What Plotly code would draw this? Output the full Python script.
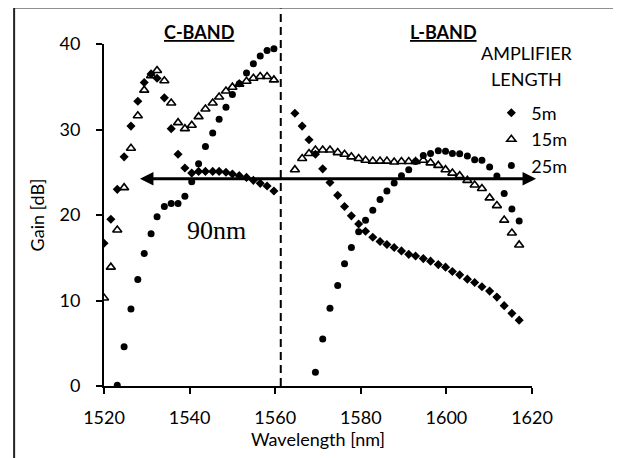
import plotly.graph_objects as go

# ---- data ----
wl_c = [1520.0, 1521.6, 1523.1, 1524.7, 1526.3, 1527.9, 1529.4, 1531.0, 1532.4, 1534.1,
        1535.7, 1537.3, 1538.9, 1540.5, 1542.1, 1543.7, 1545.4, 1546.9, 1548.5, 1550.0,
        1551.6, 1553.3, 1554.9, 1556.5, 1558.1, 1559.7]
wl_l = [1564.6, 1566.3, 1567.9, 1569.4, 1571.1, 1572.8, 1574.6, 1576.2, 1577.8, 1579.5,
        1581.1, 1582.8, 1584.5, 1586.1, 1587.8, 1589.5, 1591.2, 1592.8, 1594.6, 1596.3,
        1598.1, 1599.8, 1601.4, 1603.1, 1604.9, 1606.6, 1608.3, 1610.1, 1611.8, 1613.5,
        1615.3, 1617.0]

gain_5m_c = [16.7, 19.5, 23.0, 26.8, 30.4, 33.3, 35.5, 36.5, 36.0, 33.7, 30.1, 27.1, 25.5,
             24.9, 25.1, 25.1, 25.1, 25.1, 25.0, 24.8, 24.6, 24.4, 24.05, 23.7, 23.4, 22.8]
gain_5m_l = [31.9, 30.4, 28.8, 27.1, 25.4, 23.8, 22.3, 21.0, 19.9, 18.95, 18.1, 17.4, 16.9,
             16.55, 16.2, 15.8, 15.4, 15.2, 14.9, 14.6, 14.2, 13.9, 13.4, 13.0, 12.5, 12.1,
             11.6, 11.1, 10.4, 9.4, 8.5, 7.7]

gain_15m_c = [10.3, 13.9, 18.25, 23.2, 27.8, 31.6, 34.6, 36.3, 36.9, 35.7, 33.1, 30.8, 30.1,
              30.5, 31.5, 32.4, 33.1, 33.8, 34.5, 34.95, 35.3, 35.65, 36.0, 36.2, 36.2, 35.8]
gain_15m_l = [25.3, 26.6, 27.2, 27.6, 27.6, 27.6, 27.3, 27.1, 26.8, 26.6, 26.4, 26.3, 26.3,
              26.3, 26.2, 26.25, 26.25, 26.25, 26.4, 26.1, 25.8, 25.3, 24.9, 24.6, 24.05,
              23.5, 23.1, 22.0, 21.1, 19.4, 17.9, 16.5]

wl_25m_c = wl_c[2:]
gain_25m_c = [0.1, 4.6, 9.0, 12.45, 15.5, 17.8, 19.8, 21.0, 21.35, 21.35, 22.2, 23.9, 26.0,
              28.0, 29.6, 31.2, 32.6, 34.1, 35.35, 36.6, 37.7, 38.6, 39.25, 39.45]
wl_25m_l = wl_l[3:]
gain_25m_l = [1.6, 5.5, 9.1, 11.75, 14.3, 16.2, 18.05, 19.4, 20.55, 21.8, 22.8, 23.75, 24.6,
              25.3, 26.25, 26.95, 27.2, 27.5, 27.45, 27.2, 27.15, 26.9, 26.45, 26.4, 25.6,
              24.55, 22.5, 20.7, 19.3]

series_names = ["5m", "15m", "25m"]
band_divider = 1561.3          # nm, dashed line between C- and L-band
arrow_span = [1528.4, 1621.3]  # nm, double arrow
arrow_gain = 24.25             # dB
x_ticks = [1520, 1540, 1560, 1580, 1600, 1620]
y_ticks = [0, 10, 20, 30, 40]

FONT = "Lato"
BLACK = "#000000"
FS = 18

fig = go.Figure()
fig.add_trace(go.Scatter(
    x=wl_c + wl_l, y=gain_5m_c + gain_5m_l, mode="markers", name=series_names[0],
    marker=dict(symbol="diamond", size=7, color=BLACK)))
fig.add_trace(go.Scatter(
    x=wl_c + wl_l, y=gain_15m_c + gain_15m_l, mode="markers", name=series_names[1],
    marker=dict(symbol="triangle-up-open", size=8, color=BLACK, line=dict(width=1.6, color=BLACK))))
fig.add_trace(go.Scatter(
    x=wl_25m_c + wl_25m_l, y=gain_25m_c + gain_25m_l, mode="markers", name=series_names[2],
    marker=dict(symbol="circle", size=7, color=BLACK)))

# dashed band divider
fig.add_shape(type="line", xref="x", yref="paper", x0=band_divider, x1=band_divider,
              y0=0, y1=1.104, line=dict(color=BLACK, width=2, dash="8px,5px"))
# outer frame (left and top edges visible)
fig.add_shape(type="rect", xref="paper", yref="paper", x0=-0.21, x1=1.25, y0=-0.3, y1=1.107,
              line=dict(color="#222222", width=2), layer="below")

# double arrow
fig.add_annotation(x=arrow_span[0], y=arrow_gain, ax=arrow_span[1], ay=arrow_gain,
                   xref="x", yref="y", axref="x", ayref="y", text="",
                   showarrow=True, arrowside="end+start", arrowhead=2, startarrowhead=2,
                   arrowsize=0.9, startarrowsize=0.9, arrowwidth=3, arrowcolor=BLACK,
                   standoff=0, startstandoff=0)

fig.add_annotation(x=1546.4, y=18.2, xref="x", yref="y", text="90nm", showarrow=False,
                   font=dict(family="Liberation Serif", size=26, color=BLACK))
fig.add_annotation(x=1542.1, y=1.0, xref="x", yref="paper", yanchor="middle", yshift=12,
                   text="<b><u>C-BAND</u></b>", showarrow=False,
                   font=dict(family=FONT, size=FS, color=BLACK))
fig.add_annotation(x=1599.3, y=1.0, xref="x", yref="paper", yanchor="middle", yshift=12,
                   text="<b><u>L-BAND</u></b>", showarrow=False,
                   font=dict(family=FONT, size=FS, color=BLACK))
fig.add_annotation(x=1618.8, y=38.98, xref="x", yref="y", text="AMPLIFIER",
                   showarrow=False, font=dict(family=FONT, size=FS, color=BLACK))
fig.add_annotation(x=1618.8, y=35.85, xref="x", yref="y", text="LENGTH",
                   showarrow=False, font=dict(family=FONT, size=FS, color=BLACK))

axis_common = dict(showline=True, linecolor=BLACK, linewidth=2, ticks="outside",
                   ticklen=6, tickwidth=2, tickcolor=BLACK, showgrid=False, zeroline=False,
                   tickfont=dict(family=FONT, size=FS, color=BLACK),
                   title_font=dict(family=FONT, size=FS, color=BLACK))

fig.update_layout(
    width=613, height=450,
    margin=dict(l=96, r=89, t=36, b=69),
    paper_bgcolor="white", plot_bgcolor="white",
    font=dict(family=FONT, size=FS, color=BLACK),
    showlegend=True,
    legend=dict(x=0.905, y=0.852, xanchor="left", yanchor="top", bgcolor="rgba(0,0,0,0)",
                font=dict(family=FONT, size=FS, color=BLACK), itemwidth=30,
                tracegroupgap=0),
    xaxis=dict(range=[1520, 1620], tickvals=x_ticks, title=dict(text="Wavelength [nm]", standoff=6),
               ticklabelstandoff=8, **axis_common),
    yaxis=dict(range=[0, 40], tickvals=y_ticks, title=dict(text="Gain [dB]", standoff=10),
               ticklabelstandoff=12, **axis_common),
)

fig.write_html("out.html")
